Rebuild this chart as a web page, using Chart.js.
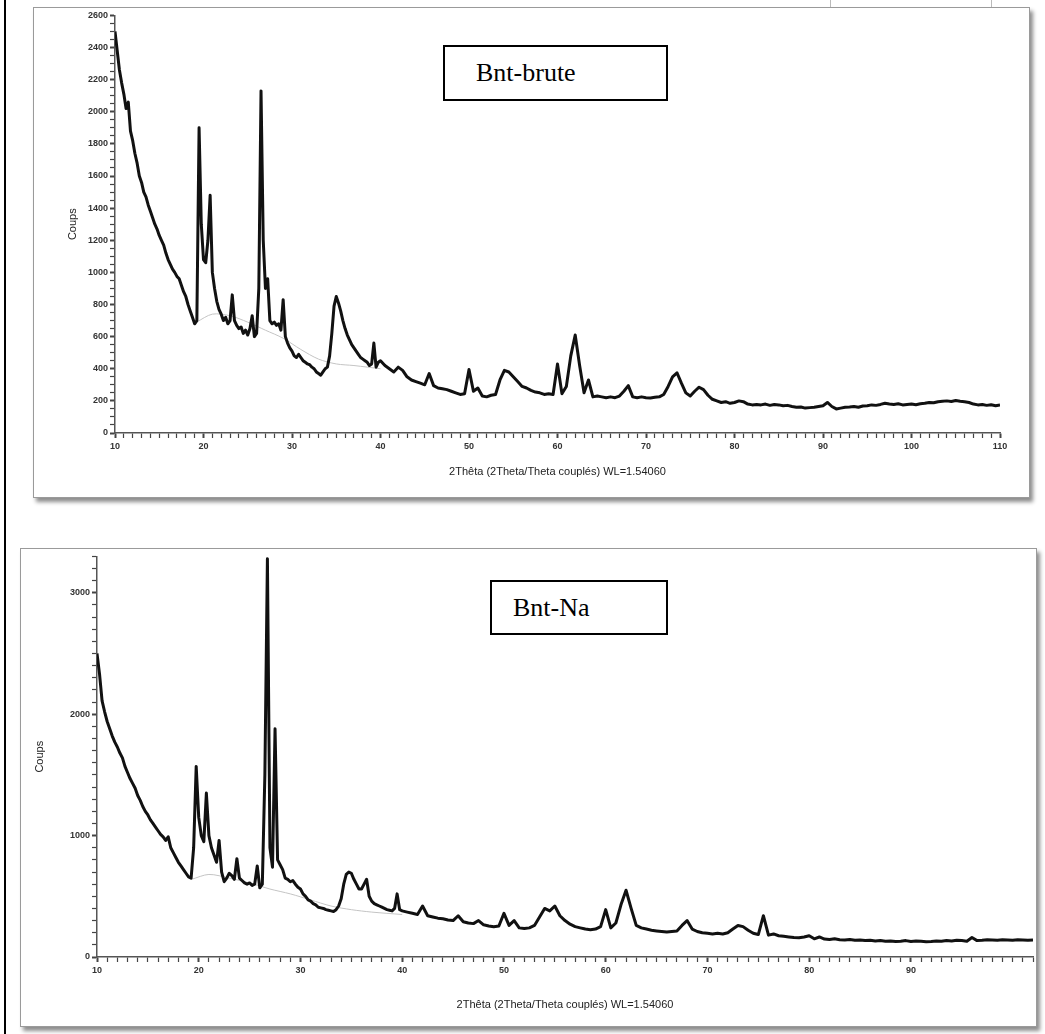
<!DOCTYPE html>
<html>
<head>
<meta charset="utf-8">
<script src="https://cdn.jsdelivr.net/npm/chart.js@4.4.1/dist/chart.umd.min.js"></script>
<style>
    html, body { margin: 0; padding: 0; background: #fff; }
    body { width: 1045px; height: 1034px; position: relative; overflow: hidden; font-family: "Liberation Sans", Arial, sans-serif; }
    .edge { position: absolute; left: 4px; top: 0; width: 2px; height: 1034px; background: #000; }
    .panel { position: absolute; background: #fff; border: 1px solid #9a9a9a; box-shadow: 3px 4px 4px rgba(0,0,0,0.45); }
    .panel canvas { position: absolute; left: 0; top: 0; }
    .tag { position: absolute; box-sizing: border-box; border: 2px solid #000; background: #fff;
           font-family: "Liberation Serif", "Times New Roman", serif; font-size: 26px; color: #000; }
    .stub { position: absolute; left: 830px; top: -20px; width: 160px; height: 28px; border: 1px solid #bbb; }
</style>
</head>
<body>
<div class="edge"></div>
<div class="stub"></div>

<div class="panel" style="left:33px; top:7px; width:995px; height:489px;">
    <canvas id="chart-brute" width="995" height="489"></canvas>
</div>
<div class="tag" style="left:443px; top:45px; width:225px; height:56px; padding:11px 0 0 31px;">Bnt-brute</div>

<div class="panel" style="left:20px; top:548px; width:1015px; height:477px;">
    <canvas id="chart-na" width="1015" height="477"></canvas>
</div>
<div class="tag" style="left:490px; top:580px; width:178px; height:55px; padding:11px 0 0 21px;">Bnt-Na</div>

<script>
// ---- Bnt-brute : 2θ positions and counts ----
const bruteTheta = [
    10, 10.25, 10.5, 10.75, 11, 11.25, 11.5, 11.75, 12, 12.25, 12.5, 12.75, 13, 13.25, 13.5, 13.75,
    14, 14.25, 14.5, 14.75, 15, 15.25, 15.5, 15.75, 16, 16.25, 16.5, 16.75, 17, 17.25, 17.5, 17.75,
    18, 18.25, 18.5, 18.75, 19, 19.25, 19.5, 19.75, 20, 20.25, 20.5, 20.75, 21, 21.25, 21.5, 21.75,
    22, 22.25, 22.5, 22.75, 23, 23.25, 23.5, 23.75, 24, 24.25, 24.5, 24.75, 25, 25.25, 25.5, 25.75,
    26, 26.25, 26.5, 26.75, 27, 27.25, 27.5, 27.75, 28, 28.25, 28.5, 28.75, 29, 29.25, 29.5, 29.75,
    30, 30.25, 30.5, 30.75, 31, 31.25, 31.5, 31.75, 32, 32.25, 32.5, 32.75, 33, 33.25, 33.5, 33.75,
    34, 34.25, 34.5, 34.75, 35, 35.25, 35.5, 35.75, 36, 36.25, 36.5, 36.75, 37, 37.25, 37.5, 37.75,
    38, 38.25, 38.5, 38.75, 39, 39.25, 39.5, 39.75, 40,
    40.5, 41, 41.5, 42, 42.5, 43, 43.5, 44, 44.5, 45, 45.5, 46, 46.5, 47, 47.5, 48, 48.5, 49, 49.5, 50,
    50.5, 51, 51.5, 52, 52.5, 53, 53.5, 54, 54.5, 55, 55.5, 56, 56.5, 57, 57.5, 58, 58.5, 59, 59.5, 60,
    60.5, 61, 61.5, 62, 62.5, 63, 63.5, 64, 64.5, 65, 65.5, 66, 66.5, 67, 67.5, 68, 68.5, 69, 69.5, 70,
    70.5, 71, 71.5, 72, 72.5, 73, 73.5, 74, 74.5, 75, 75.5, 76, 76.5, 77, 77.5, 78, 78.5, 79, 79.5, 80,
    80.5, 81, 81.5, 82, 82.5, 83, 83.5, 84, 84.5, 85, 85.5, 86, 86.5, 87, 87.5, 88, 88.5, 89, 89.5, 90,
    90.5, 91, 91.5, 92, 92.5, 93, 93.5, 94, 94.5, 95, 95.5, 96, 96.5, 97, 97.5, 98, 98.5, 99, 99.5, 100,
    100.5, 101, 101.5, 102, 102.5, 103, 103.5, 104, 104.5, 105, 105.5, 106, 106.5, 107, 107.5, 108, 108.5, 109, 109.5, 110
];
const bruteCounts = [
    2500, 2380, 2260, 2180, 2110, 2020, 2060, 1880, 1820, 1740, 1680, 1600, 1560, 1500, 1470, 1420,
    1380, 1340, 1300, 1270, 1230, 1200, 1170, 1120, 1080, 1050, 1020, 1000, 975, 960, 920, 880,
    850, 800, 760, 720, 680, 700, 1900, 1300, 1080, 1060, 1200, 1480, 1000, 900, 820, 770,
    740, 700, 720, 680, 700, 860, 700, 670, 650, 660, 620, 640, 610, 650, 730, 600,
    620, 900, 2130, 1200, 900, 960, 700, 680, 690, 670, 680, 640, 830, 600, 560, 530,
    510, 480, 470, 490, 470, 450, 440, 430, 425, 410, 400, 380, 370, 360, 380, 400,
    410, 480, 620, 790, 850, 810, 760, 700, 650, 610, 580, 550, 530, 510, 490, 470,
    460, 450, 440, 420, 430, 560, 410, 440, 450,
    420, 400, 380, 410, 390, 350, 330, 320, 310, 300, 370, 295, 280, 275, 270, 260, 250, 240, 245, 395,
    260, 280, 230, 225, 235, 240, 330, 390, 380, 350, 320, 290, 280, 265, 255, 250, 240, 245, 240, 430,
    245, 290, 480, 610, 420, 250, 330, 225, 230, 225, 220, 225, 220, 230, 260, 295, 225, 220, 225, 220,
    218, 222, 225, 240, 290, 350, 375, 310, 250, 230, 260, 285, 270, 235, 210, 200, 190, 195, 185, 190,
    200, 195, 180, 175, 178, 175, 180, 172, 178, 175, 170, 172, 165, 160, 162, 155, 158, 160, 165, 170,
    190, 165, 150, 155, 160, 162, 165, 160, 168, 170, 175, 172, 178, 185, 180, 178, 182, 175, 178, 180,
    176, 182, 185, 190, 188, 195, 198, 200, 196, 202, 198, 195, 190, 180, 175, 178, 172, 176, 170, 175
];
// faint background fit under the peaks
const bruteFondTheta  = [19.2, 21, 23, 25, 27, 29, 31, 33, 35, 37, 40];
const bruteFondCounts = [690, 740, 730, 690, 640, 590, 520, 460, 430, 420, 400];

// ---- Bnt-Na : 2θ positions and counts ----
const naTheta = [
    10, 10.25, 10.5, 10.75, 11, 11.25, 11.5, 11.75, 12, 12.25, 12.5, 12.75, 13, 13.25, 13.5, 13.75,
    14, 14.25, 14.5, 14.75, 15, 15.25, 15.5, 15.75, 16, 16.25, 16.5, 16.75, 17, 17.25, 17.5, 17.75,
    18, 18.25, 18.5, 18.75, 19, 19.25, 19.5, 19.75, 20, 20.25, 20.5, 20.75, 21, 21.25, 21.5, 21.75,
    22, 22.25, 22.5, 22.75, 23, 23.25, 23.5, 23.75, 24, 24.25, 24.5, 24.75, 25, 25.25, 25.5, 25.75,
    26, 26.25, 26.5, 26.75, 27, 27.25, 27.5, 27.75, 28, 28.25, 28.5, 28.75, 29, 29.25, 29.5, 29.75,
    30, 30.25, 30.5, 30.75, 31, 31.25, 31.5, 31.75, 32, 32.25, 32.5, 32.75, 33, 33.25, 33.5, 33.75,
    34, 34.25, 34.5, 34.75, 35, 35.25, 35.5, 35.75, 36, 36.25, 36.5, 36.75, 37, 37.25, 37.5, 37.75,
    38, 38.25, 38.5, 38.75, 39, 39.25, 39.5, 39.75, 40,
    40.5, 41, 41.5, 42, 42.5, 43, 43.5, 44, 44.5, 45, 45.5, 46, 46.5, 47, 47.5, 48, 48.5, 49, 49.5, 50,
    50.5, 51, 51.5, 52, 52.5, 53, 53.5, 54, 54.5, 55, 55.5, 56, 56.5, 57, 57.5, 58, 58.5, 59, 59.5, 60,
    60.5, 61, 61.5, 62, 62.5, 63, 63.5, 64, 64.5, 65, 65.5, 66, 66.5, 67, 67.5, 68, 68.5, 69, 69.5, 70,
    70.5, 71, 71.5, 72, 72.5, 73, 73.5, 74, 74.5, 75, 75.5, 76, 76.5, 77, 77.5, 78, 78.5, 79, 79.5, 80,
    80.5, 81, 81.5, 82, 82.5, 83, 83.5, 84, 84.5, 85, 85.5, 86, 86.5, 87, 87.5, 88, 88.5, 89, 89.5, 90,
    90.5, 91, 91.5, 92, 92.5, 93, 93.5, 94, 94.5, 95, 95.5, 96, 96.5, 97, 97.5, 98, 98.5, 99, 99.5, 100,
    100.5, 101, 101.5, 102
];
const naCounts = [
    2500, 2330, 2110, 2020, 1940, 1880, 1820, 1770, 1730, 1680, 1640, 1570, 1520, 1470, 1430, 1390,
    1330, 1290, 1240, 1200, 1170, 1130, 1100, 1070, 1040, 1010, 990, 960, 990, 900, 860, 820,
    780, 750, 720, 690, 660, 650, 900, 1570, 1150, 1000, 950, 1350, 1000, 900, 840, 780,
    960, 700, 620, 650, 690, 670, 640, 810, 650, 630, 610, 600, 610, 590, 600, 750,
    570, 600, 1500, 3280, 900, 740, 1880, 800, 760, 720, 650, 640, 620, 630, 600, 575,
    560, 520, 500, 470, 460, 440, 430, 410, 405, 400, 390, 385, 380, 375, 390, 420,
    480, 600, 680, 700, 690, 640, 600, 560, 560, 600, 640, 500, 460, 440, 430, 420,
    410, 400, 390, 385, 380, 400, 520, 390, 380,
    370, 360, 350, 420, 340, 330, 320, 315, 305, 300, 340, 290, 280, 275, 300, 265, 255, 250, 255, 360,
    260, 300, 240, 235, 240, 260, 330, 400, 380, 420, 340, 300, 270, 250, 240, 230, 225, 230, 250, 390,
    240, 280, 430, 550, 400, 260, 240, 230, 220, 215, 210, 205, 210, 215, 260, 300, 230, 210, 200, 195,
    190, 195, 190, 200, 230, 260, 250, 220, 195, 185, 340, 180, 190, 175, 170, 165, 160, 158, 165, 175,
    150, 165, 148, 145, 150, 142, 140, 145, 138, 140, 135, 138, 132, 135, 130, 132, 128, 130, 135, 128,
    132, 130, 126, 128, 132, 130, 135, 132, 138, 135, 130, 160, 135, 138, 142, 140, 138, 142, 140, 138,
    142, 140, 138, 140
];
const naFondTheta  = [19.3, 21, 23, 25, 27, 29, 31, 33, 35, 37, 40];
const naFondCounts = [640, 680, 650, 610, 560, 520, 470, 420, 390, 370, 350];

// ---- tick labels ----
const bruteXLabels = [10, 20, 30, 40, 50, 60, 70, 80, 90, 100, 110];
const bruteYLabels = [0, 200, 400, 600, 800, 1000, 1200, 1400, 1600, 1800, 2000, 2200, 2400, 2600];
const naXLabels = [10, 20, 30, 40, 50, 60, 70, 80, 90];
const naYLabels = [0, 1000, 2000, 3000];

const X_TITLE = '2Thêta (2Theta/Theta couplés) WL=1.54060';
const Y_TITLE = 'Coups';

function toPoints(xs, ys) {
    return xs.map((x, i) => ({ x, y: ys[i] }));
}

/**
 * Build one diffractogram. Minor ticks come from the scale step,
 * only the listed values get a label.
 */
function buildPattern(id, cfg) {
    const ctx = document.getElementById(id);
    const tickFont = { family: '"Liberation Sans", Arial, sans-serif', size: 9, weight: 'bold' };
    const titleFont = { family: '"Liberation Sans", Arial, sans-serif', size: 11 };
    const isMajor = (labels, c) => c.tick && labels.includes(c.tick.value);

    return new Chart(ctx, {
        type: 'line',
        data: {
            datasets: [
                {
                    data: toPoints(cfg.theta, cfg.counts),
                    borderColor: '#111',
                    borderWidth: 3,
                    borderJoinStyle: 'round',
                    pointRadius: 0,
                    tension: 0,
                    order: 1
                },
                {
                    data: toPoints(cfg.fondTheta, cfg.fondCounts),
                    borderColor: '#c4c4c4',
                    borderWidth: 1,
                    pointRadius: 0,
                    tension: 0.3,
                    order: 2
                }
            ]
        },
        options: {
            responsive: false,
            animation: false,
            events: [],
            layout: { padding: cfg.padding },
            plugins: { legend: { display: false }, tooltip: { enabled: false } },
            scales: {
                x: {
                    type: 'linear',
                    min: cfg.xMin,
                    max: cfg.xMax,
                    afterFit: s => { s.height = cfg.xHeight; },
                    border: { display: true, color: '#555', width: 1.5 },
                    grid: {
                        display: true, drawOnChartArea: false, drawTicks: true, tickLength: 5,
                        color: '#555', tickColor: '#444',
                        tickWidth: c => (isMajor(cfg.xLabels, c) ? 2 : 1.2)
                    },
                    ticks: {
                        stepSize: 1, autoSkip: false, maxTicksLimit: 500, maxRotation: 0,
                        padding: 3, color: '#333', font: tickFont,
                        callback: v => (cfg.xLabels.includes(v) ? String(v) : '')
                    },
                    title: { display: true, text: X_TITLE, color: '#222', font: titleFont, padding: { top: 4, bottom: 4 } }
                },
                y: {
                    type: 'linear',
                    min: 0,
                    max: cfg.yMax,
                    afterFit: s => { s.width = cfg.yWidth; },
                    border: { display: true, color: '#555', width: 1.5 },
                    grid: {
                        display: true, drawOnChartArea: false, drawTicks: true, tickLength: 5,
                        color: '#555', tickColor: '#444',
                        tickWidth: c => (isMajor(cfg.yLabels, c) ? 2 : 1.2)
                    },
                    ticks: {
                        stepSize: cfg.yStep, autoSkip: false, maxTicksLimit: 500,
                        padding: 2, color: '#333', font: tickFont,
                        callback: v => (cfg.yLabels.includes(v) ? String(v) : '')
                    },
                    title: { display: true, text: Y_TITLE, color: '#222', font: titleFont, padding: { top: 4, bottom: 4 } }
                }
            }
        }
    });
}

buildPattern('chart-brute', {
    theta: bruteTheta, counts: bruteCounts,
    fondTheta: bruteFondTheta, fondCounts: bruteFondCounts,
    xLabels: bruteXLabels, yLabels: bruteYLabels,
    xMin: 10, xMax: 110, yMax: 2600, yStep: 50,
    padding: { left: 28, right: 29, top: 4, bottom: 14 },
    yWidth: 53, xHeight: 50
});

buildPattern('chart-na', {
    theta: naTheta, counts: naCounts,
    fondTheta: naFondTheta, fondCounts: naFondCounts,
    xLabels: naXLabels, yLabels: naYLabels,
    xMin: 10, xMax: 102, yMax: 3300, yStep: 100,
    padding: { left: 8, right: 1, top: 6, bottom: 10 },
    yWidth: 68, xHeight: 59
});
</script>
</body>
</html>
